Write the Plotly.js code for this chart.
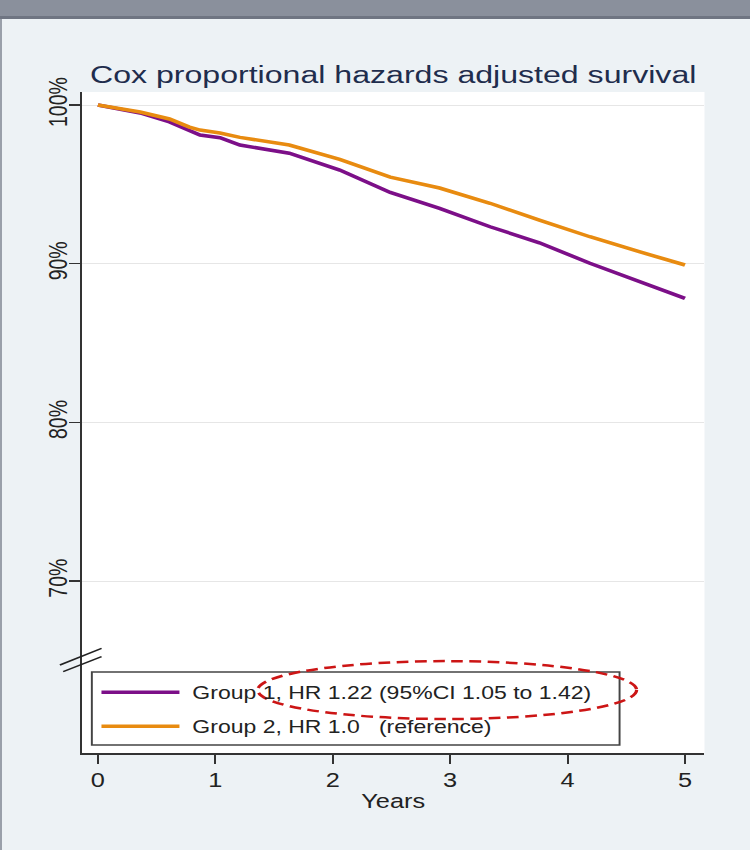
<!DOCTYPE html>
<html>
<head>
<meta charset="utf-8">
<script src="https://cdn.plot.ly/plotly-3.0.1.min.js"></script>
<style>
  html, body { margin: 0; padding: 0; background: #edf2f5; width: 750px; height: 850px; overflow: hidden; }
  #topbar { position: absolute; left: 0; top: 0; width: 750px; height: 16px; background: #8a909c; border-bottom: 3px solid #6f7582; z-index: 5; }
  #leftline { position: absolute; left: 0; top: 19px; width: 2px; height: 831px; background: #9aa0aa; z-index: 5; }
  #wrap { position: absolute; left: 0; top: 0; width: 577px; height: 850px; transform: scaleX(1.2998); transform-origin: 0 0; }
  #chart { width: 577px; height: 850px; }
</style>
</head>
<body>
<div id="topbar"></div>
<div id="leftline"></div>
<div id="wrap"><div id="chart"></div></div>
<script>
// ---- data ----
const years = [0, 0.36, 0.61, 0.78, 0.87, 1.04, 1.21, 1.63, 2.06, 2.49, 2.91, 3.34, 3.76, 4.19, 4.61, 5.0];
const group1Survival = [100, 99.50, 98.93, 98.42, 98.11, 97.94, 97.48, 96.96, 95.90, 94.49, 93.49, 92.33, 91.32, 90.03, 88.87, 87.82];
const group2Survival = [100, 99.56, 99.12, 98.61, 98.42, 98.24, 97.96, 97.48, 96.58, 95.46, 94.77, 93.81, 92.75, 91.70, 90.76, 89.92];
const seriesNames = ["\u00a0Group 1, HR 1.22 (95%CI 1.05 to 1.42)", "\u00a0Group 2, HR 1.0\u00a0\u00a0\u00a0(reference)"];
const xTicks = [0, 1, 2, 3, 4, 5];
const yTicks = [70, 80, 90, 100];
const yTickText = ["70%", "80%", "90%", "100%"];
const chartTitle = "Cox proportional hazards adjusted survival";
const xTitle = "Years";

const FONT = "Liberation Sans, Arial, sans-serif";
const PURPLE = "#7c0f88";
const ORANGE = "#e88b10";

const traces = [
  { x: years, y: group1Survival, name: seriesNames[0], type: "scatter", mode: "lines",
    line: { color: PURPLE, width: 3.5 }, legendgroup: "g1" },
  { x: years, y: group2Survival, name: seriesNames[1], type: "scatter", mode: "lines",
    line: { color: ORANGE, width: 3.5 }, legendgroup: "g2" }
];

const layout = {
  width: 577, height: 850,
  margin: { l: 63, r: 35, t: 92, b: 97, pad: 0 },
  paper_bgcolor: "#edf2f5",
  plot_bgcolor: "#ffffff",
  font: { family: FONT, color: "#222222" },
  title: { text: chartTitle, font: { family: FONT, size: 24.7, color: "#1f2d4d" },
           x: 0.5, xref: "paper", xanchor: "center", y: 0.912, yref: "container", yanchor: "middle" },
  xaxis: {
    range: [-0.136, 5.166], tickvals: xTicks, ticktext: xTicks.map(String),
    showgrid: false, zeroline: false, showline: true, linecolor: "#333333", linewidth: 2,
    ticks: "outside", ticklen: 9, tickwidth: 1.5, tickcolor: "#333333",
    tickfont: { family: FONT, size: 19.5, color: "#222222" },
    title: { text: xTitle, font: { family: FONT, size: 19.5, color: "#222222" }, standoff: 4 }
  },
  yaxis: {
    range: [59.17, 100.82], tickvals: yTicks, ticktext: yTickText, tickangle: -90,
    showgrid: true, gridcolor: "#e6e6e6", gridwidth: 1, zeroline: false,
    showline: true, linecolor: "#333333", linewidth: 1.6,
    ticks: "outside", ticklen: 8, tickwidth: 1.5, tickcolor: "#333333",
    ticklabelstandoff: -6,
    tickfont: { family: FONT, size: 19.5, color: "#222222" }
  },
  showlegend: true,
  legend: {
    x: 0.021, y: 0.119, xanchor: "left", yanchor: "top",
    bgcolor: "rgba(0,0,0,0)", borderwidth: 0,
    font: { family: FONT, size: 17.7, color: "#222222" },
    itemwidth: 60, traceorder: "grouped", tracegroupgap: 8
  },
  shapes: [
    { type: "rect", xref: "paper", yref: "paper", x0: 0.016, x1: 0.8636, y0: 0.0121, y1: 0.1225,
      line: { color: "#444444", width: 1.5 }, fillcolor: "rgba(0,0,0,0)", layer: "below" },
    { type: "circle", xref: "paper", yref: "paper", x0: 0.2825, x1: 0.891, y0: 0.0514, y1: 0.139,
      line: { color: "#cc1515", width: 2.5, dash: "9px,5px" }, layer: "above" },
    { type: "line", xref: "paper", yref: "paper", x0: -0.0353, y0: 0.1331, x1: 0.0316, y1: 0.1584,
      line: { color: "#222222", width: 1.5 } },
    { type: "line", xref: "paper", yref: "paper", x0: -0.030, y0: 0.123, x1: 0.0316, y1: 0.1457,
      line: { color: "#222222", width: 1.5 } }
  ]
};

Plotly.newPlot("chart", traces, layout, { displayModeBar: false, staticPlot: true });
</script>
</body>
</html>
